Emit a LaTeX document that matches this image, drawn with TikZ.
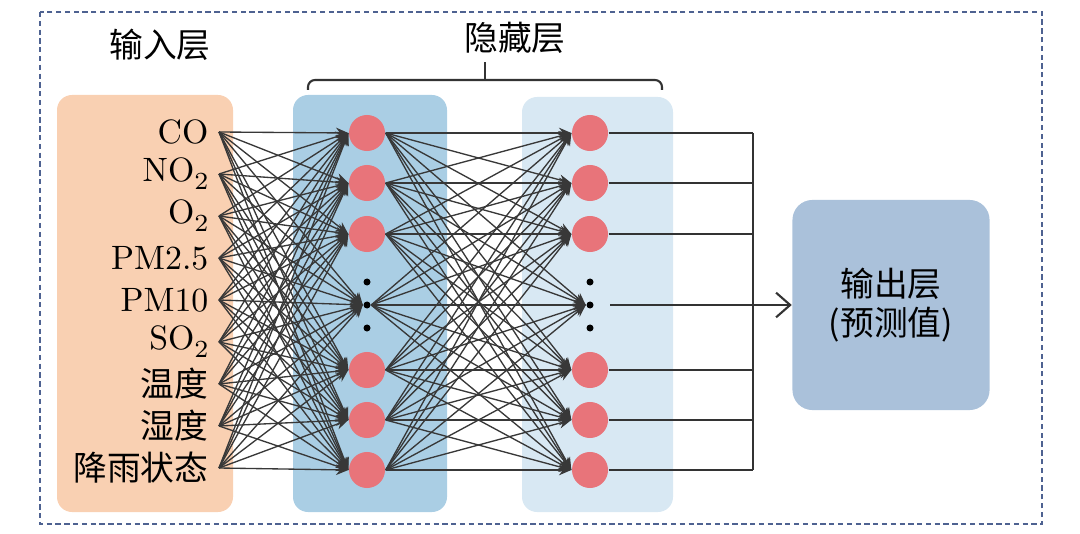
\documentclass[tikz,border=0pt]{standalone}
\usepackage{fontspec}
\newfontfamily\cjk{Noto Sans CJK SC}
\usetikzlibrary{arrows.meta}
\definecolor{inbg}{RGB}{249,208,178}
\definecolor{hida}{RGB}{170,206,228}
\definecolor{hidb}{RGB}{216,232,243}
\definecolor{outbg}{RGB}{170,193,218}
\definecolor{neur}{RGB}{232,116,122}
\definecolor{frame}{RGB}{78,98,145}
\newcommand{\lowtwo}{\raisebox{-0.55ex}{\scriptsize 2}}
\tikzset{
  layerbox/.style={rounded corners=0.15cm},
  neuron/.style={circle,fill=neur,inner sep=0pt,minimum size=0.36cm},
  dotnode/.style={circle,fill=black,inner sep=0pt,minimum size=0.07cm},
  link/.style={black!78,line width=0.38pt,-{Stealth[length=3.5pt,width=3pt]}},
  wire/.style={black!80,line width=0.6pt},
}
\begin{document}
\begin{tikzpicture}[x=0.01cm,y=-0.01cm,font=\fontsize{9.6pt}{11pt}\selectfont]
\useasboundingbox (0,0) rectangle (1080,534);
\draw[frame,line width=0.7pt,dash pattern=on 1.5pt off 1pt] (40,12) rectangle (1042,524);
% layer boxes
\fill[inbg,layerbox] (57,95) rectangle (233,512);
\fill[hida,layerbox] (293,95) rectangle (447,512);
\fill[hidb,layerbox] (522,97) rectangle (673,512);
\node[fill=outbg,rounded corners=0.2cm,minimum width=1.97cm,minimum height=2.1cm,align=center] (out) at (891,305) {\cjk 输出层\\\cjk (预测值)};
% titles
\node (tin) at (160,45) {\cjk 输入层};
\node (thid) at (515,38) {\cjk 隐藏层};
\draw[wire,rounded corners=2pt] (308,90) -- (308,80) -- (662,80) -- (662,90);
\draw[wire] (485,80) -- (485,62);
% inputs
\foreach \t [count=\i] in {CO,NO\lowtwo,O\lowtwo,PM2.5,PM10,SO\lowtwo,{\cjk 温度},{\cjk 湿度},{\cjk 降雨状态}} {
  \node[anchor=east,inner sep=0pt] (lab\i) at (209,132+42*\i-42) {\t};
  \coordinate (in\i) at (219,132+42*\i-42);
}
% hidden layers
\foreach \y [count=\j] in {133,183,234,305,370,420,470} {
  \ifnum\j=4
    \node[dotnode] (a\j) at (367,\y) {};
    \node[dotnode] (b\j) at (590,\y) {};
  \else
    \node[neuron] (a\j) at (367,\y) {};
    \node[neuron] (b\j) at (590,\y) {};
  \fi
}
\node[dotnode] (a3d) at (367,282) {};
\node[dotnode] (a5u) at (367,328) {};
\node[dotnode] (b3d) at (590,282) {};
\node[dotnode] (b5u) at (590,328) {};
\foreach \i in {1,...,9}
  \foreach \j in {1,...,7}
    \draw[link] (in\i) -- (a\j.west);
\foreach \i in {1,...,7}
  \foreach \j in {1,...,7}
    \draw[link] (a\i.east) -- (b\j.west);
% output
\coordinate (bus) at (753,0);
\foreach \j in {1,2,3,5,6,7}
  \draw[wire] (b\j.east) -- (b\j.east -| bus);
\draw[wire] (b1.east -| bus) -- (b7.east -| bus);
\draw[wire,-{Straight Barb[length=4pt,width=7pt]}] ([xshift=0.16cm]b4.east) -- (out.west);
\end{tikzpicture}
\end{document}
